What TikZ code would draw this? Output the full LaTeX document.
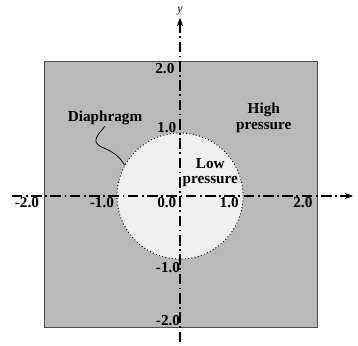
\documentclass[tikz,border=0pt]{standalone}
\usepackage{fontspec}
\setmainfont{Liberation Serif}
\usetikzlibrary{arrows.meta}

\begin{document}
\begin{tikzpicture}[x=1.89cm,y=1.89cm,>={Stealth[length=2.6mm,width=1.9mm]},
  lbl/.style={font=\fontsize{13}{13.5}\selectfont\bfseries,inner sep=1pt},
  axis/.style={line width=1pt,dash pattern=on 9pt off 3pt on 1.5pt off 3pt}]
  \useasboundingbox (-2.857,-2.365) rectangle (2.825,3.111);
  \fill[gray!55,draw=black!70,line width=0.5pt] (-2.159,-2.079) rectangle (2.175,2.143);
  \node[circle,draw,dotted,line width=0.8pt,fill=gray!12,minimum size=3.78cm,inner sep=0pt] (diaph) at (0,0) {};
  \coordinate (xs) at (-2.67,0);
  \coordinate (xe) at (2.75,0);
  \coordinate (ys) at (0,-2.32);
  \coordinate (ye) at (0,2.83);
  \draw[axis,->] (xs) -- (xe);
  \draw[axis,->] (ys) -- (ye);
  \node[font=\fontsize{10}{11}\selectfont\itshape,inner sep=0pt] (ylbl) at (0,2.94) {y};
  % tick labels
  \node[lbl] (y2) at (-0.24,2.02) {2.0};
  \node[lbl] (y1) at (-0.21,1.08) {1.0};
  \node[lbl] (o) at (-0.21,-0.1) {0.0};
  \node[lbl] (ym1) at (-0.19,-1.13) {-1.0};
  \node[lbl] (ym2) at (-0.19,-1.98) {-2.0};
  \node[lbl] (xm2) at (-2.43,-0.1) {-2.0};
  \node[lbl] (xm1) at (-1.24,-0.1) {-1.0};
  \node[lbl] (x1) at (0.78,-0.1) {1.0};
  \node[lbl] (x2) at (1.95,-0.1) {2.0};
  % regions
  \node[lbl,align=center] (high) at (1.33,1.24) {High\\pressure};
  \node[lbl,align=center] (low) at (0.48,0.37) {Low\\pressure};
  \node[lbl] (dlbl) at (-1.19,1.24) {Diaphragm};
  \draw[line width=0.6pt] (dlbl.south) .. controls (-1.30,0.98) and (-1.42,0.86) .. (-1.25,0.78)
    .. controls (-1.05,0.70) and (-0.95,0.62) .. (diaph.151);
\end{tikzpicture}
\end{document}
